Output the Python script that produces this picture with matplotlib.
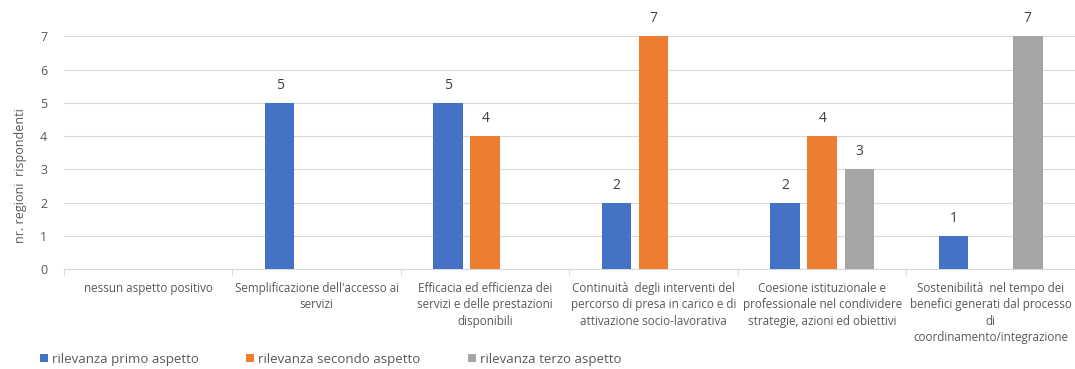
import numpy as np
import matplotlib
matplotlib.use("Agg")
import matplotlib.pyplot as plt

categories = [
    "nessun aspetto positivo",
    "Semplificazione dell'accesso ai\nservizi",
    "Efficacia ed efficienza dei\nservizi e delle prestazioni\ndisponibili",
    "Continuità  degli interventi del\npercorso di presa in carico e di\nattivazione socio-lavorativa",
    "Coesione istituzionale e\nprofessionale nel condividere\nstrategie, azioni ed obiettivi",
    "Sostenibilità  nel tempo dei\nbenefici generati dal processo\ndi\ncoordinamento/integrazione",
]
primo = [0, 5, 5, 2, 2, 1]
secondo = [0, 0, 4, 7, 4, 0]
terzo = [0, 0, 0, 0, 3, 7]
series_names = ["rilevanza primo aspetto", "rilevanza secondo aspetto", "rilevanza terzo aspetto"]
colors = ["#4472C4", "#ED7D31", "#A5A5A5"]

plt.rcParams["font.family"] = ["Open Sans", "DejaVu Sans"]
txt = "#595959"

fig = plt.figure(figsize=(10.75, 3.69), dpi=100)
ax = fig.add_axes([0.0595, 0.271, 0.9405, 0.725])

x = np.arange(len(categories))
width = 0.175
offset = 0.22
for i, (vals, name, c) in enumerate(zip([primo, secondo, terzo], series_names, colors)):
    pos = x + (i - 1) * offset
    bars = ax.bar(pos, vals, width, color=c, label=name, zorder=3)
    for b, v in zip(bars, vals):
        if v > 0:
            ax.text(b.get_x() + b.get_width() / 2, v + 0.3, str(v), ha="center",
                    va="bottom", fontsize=10, color="#404040")

ax.set_xlim(-0.5, len(categories) - 0.5)
ax.set_ylim(0, 8.05)
ax.set_yticks(range(0, 8))
ax.tick_params(axis="y", length=0, labelsize=9, labelcolor=txt, pad=12)
ax.grid(axis="y", color="#D9D9D9", linewidth=0.8, zorder=0)

ax.set_xticks(x)
ax.set_xticklabels(categories, fontsize=8.4, color=txt, linespacing=1.35)
ax.tick_params(axis="x", length=0, pad=9)
ax.set_xticks(np.arange(-0.5, len(categories)), minor=True)
ax.tick_params(axis="x", which="minor", length=5, color="#D9D9D9")

for s in ["top", "right", "left"]:
    ax.spines[s].set_visible(False)
ax.spines["bottom"].set_color("#D9D9D9")

ax.set_ylabel("nr. regioni  rispondenti", fontsize=9, color=txt)
ax.yaxis.set_label_coords(-0.037, 0.35)

fig.legend(loc="center left", bbox_to_anchor=(0.037, 0.027), ncol=3, frameon=False,
           fontsize=9.5, handlelength=0.6, handleheight=0.6, handletextpad=0.3,
           columnspacing=3.6, labelcolor=txt, borderaxespad=0, borderpad=0)

fig.savefig("out.png", dpi=100)
